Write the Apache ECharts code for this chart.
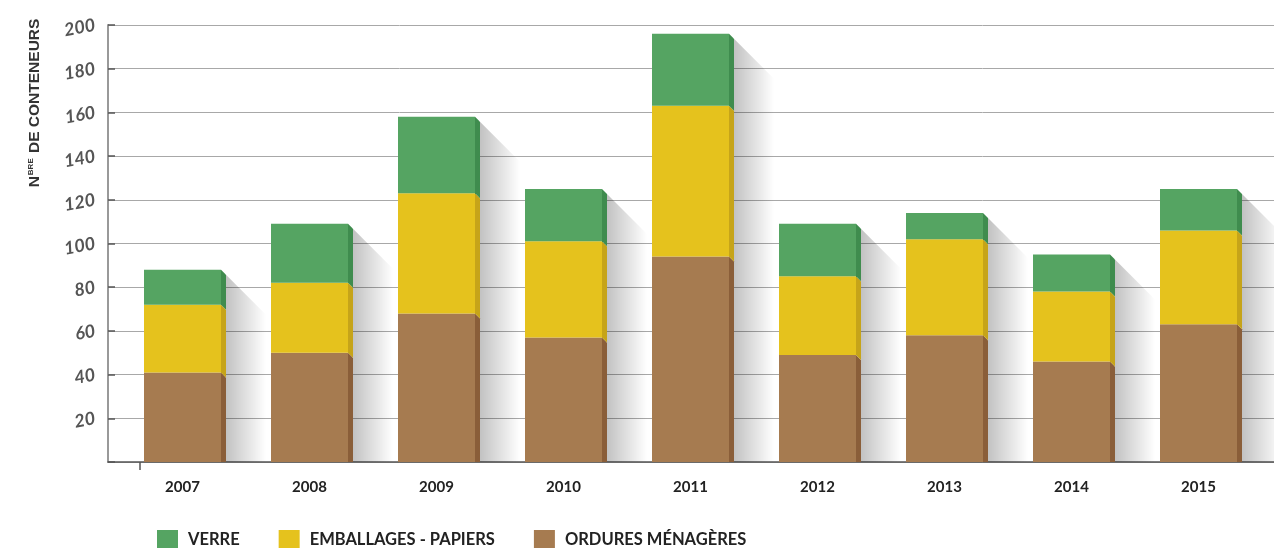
<!DOCTYPE html>
<html>
<head>
<meta charset="utf-8">
<script src="https://cdn.jsdelivr.net/npm/echarts@6/dist/echarts.min.js"></script>
<style>
  html, body { margin: 0; padding: 0; background: #fff; }
  #main { width: 1274px; height: 548px; }
</style>
</head>
<body>
<div id="main"></div>
<script>
// données
var years = ['2007', '2008', '2009', '2010', '2011', '2012', '2013', '2014', '2015'];
var ordures = [41, 50, 68, 57, 94, 49, 58, 46, 63];
var emballages = [31, 32, 55, 44, 69, 36, 44, 32, 43];
var verre = [16, 27, 35, 24, 33, 24, 12, 17, 19];
var seriesNames = ['ORDURES MÉNAGÈRES', 'EMBALLAGES - PAPIERS', 'VERRE'];
var yTicks = [0, 200, 20]; // min, max, pas

var colors = ['#a67b50', '#e5c21d', '#55a462'];
var sideColors = ['#8a5e39', '#c6a419', '#3f8c4e'];
var BAR_W = 77;

var chart = echarts.init(document.getElementById('main'));

// faces latérales + ombre portée (effet 3D)
function render3d(params, api) {
  var i = api.value(0);
  var vals = [api.value(1), api.value(2), api.value(3)];
  var base = api.coord([i, 0]);
  var xr = base[0] + BAR_W / 2;
  var y0 = base[1];
  var d = 5, sw = 40;
  var total = vals[0] + vals[1] + vals[2];
  var yt = api.coord([i, total])[1];
  var children = [];
  children.push({
    type: 'polygon',
    shape: { points: [[xr + d, yt + d], [xr + d + sw, yt + d + sw], [xr + d + sw, y0], [xr + d, y0]] },
    style: {
      fill: new echarts.graphic.LinearGradient(0, 0, 1, 0, [
        { offset: 0, color: 'rgba(0,0,0,0.24)' },
        { offset: 1, color: 'rgba(0,0,0,0)' }
      ])
    }
  });
  var cum = 0;
  for (var k = 0; k < 3; k++) {
    var yb = api.coord([i, cum])[1];
    cum += vals[k];
    var ytop = api.coord([i, cum])[1];
    children.push({
      type: 'polygon',
      shape: { points: [[xr, ytop], [xr + d, ytop + d], [xr + d, Math.min(yb + d, y0)], [xr, yb]] },
      style: { fill: sideColors[k] }
    });
  }
  return { type: 'group', children: children };
}

function barSeries(idx, data) {
  return {
    name: seriesNames[idx], type: 'bar', stack: 'total', xAxisIndex: 1, yAxisIndex: 1,
    barWidth: BAR_W, itemStyle: { color: colors[idx] }, data: data
  };
}

chart.setOption({
  animation: false,
  grid: [
    { left: 108, right: 0, top: 25, bottom: 86 },
    { left: 119, right: 12, top: 25, bottom: 86 }
  ],
  legend: {
    data: ['VERRE', 'EMBALLAGES - PAPIERS', 'ORDURES MÉNAGÈRES'],
    left: 157,
    top: 530,
    padding: 0,
    icon: 'rect',
    itemWidth: 21,
    itemHeight: 20,
    itemGap: 39,
    textStyle: { fontFamily: 'Lato', fontSize: 16.5, fontWeight: 'bold', color: '#222', padding: [0, 0, 0, 5] }
  },
  graphic: [{
    type: 'text',
    x: 35,
    y: 103,
    rotation: Math.PI / 2,
    style: {
      text: 'N{s|BRE} DE CONTENEURS',
      align: 'center',
      verticalAlign: 'middle',
      font: 'bold 15.5px "Liberation Sans"',
      fill: '#333',
      rich: { s: { fontSize: 8, fontWeight: 'bold', fontFamily: 'Liberation Sans', verticalAlign: 'top', padding: [0, 1, 6, 1], fill: '#333' } }
    }
  }],
  xAxis: [{
    gridIndex: 0,
    type: 'value',
    min: 0,
    max: 1166,
    axisLine: { show: true, lineStyle: { color: '#555', width: 1.5 } },
    axisTick: { show: true, customValues: [32], length: 8, lineStyle: { color: '#555', width: 1.5 } },
    axisLabel: { show: false },
    splitLine: { show: false }
  }, {
    gridIndex: 1,
    type: 'category',
    data: years,
    axisLine: { show: false },
    axisTick: { show: false },
    axisLabel: { margin: 18, fontFamily: 'Lato', fontSize: 15, fontWeight: 'bold', color: '#222' }
  }],
  yAxis: [{
    gridIndex: 0,
    type: 'value',
    min: yTicks[0],
    max: yTicks[1],
    interval: yTicks[2],
    axisLine: { show: true, lineStyle: { color: '#999', width: 2 } },
    axisTick: { show: true, inside: true, length: 7, lineStyle: { color: '#555', width: 1.5 } },
    axisLabel: {
      margin: 13,
      rotate: 10,
      fontFamily: 'Lato',
      fontStyle: 'italic',
      fontWeight: 'bold',
      fontSize: 18,
      color: '#555',
      formatter: function (v) { return v === 0 ? '' : v; }
    },
    splitLine: { show: true, lineStyle: { color: '#a8a8a8', width: 1 } }
  }, {
    gridIndex: 1,
    type: 'value',
    min: yTicks[0],
    max: yTicks[1],
    interval: yTicks[2],
    show: false,
    splitLine: { show: false }
  }],
  series: [{
    type: 'custom',
    xAxisIndex: 1,
    yAxisIndex: 1,
    renderItem: render3d,
    silent: true,
    data: years.map(function (y, i) { return [i, ordures[i], emballages[i], verre[i]]; })
  },
    barSeries(0, ordures),
    barSeries(1, emballages),
    barSeries(2, verre)
  ]
});
</script>
</body>
</html>
